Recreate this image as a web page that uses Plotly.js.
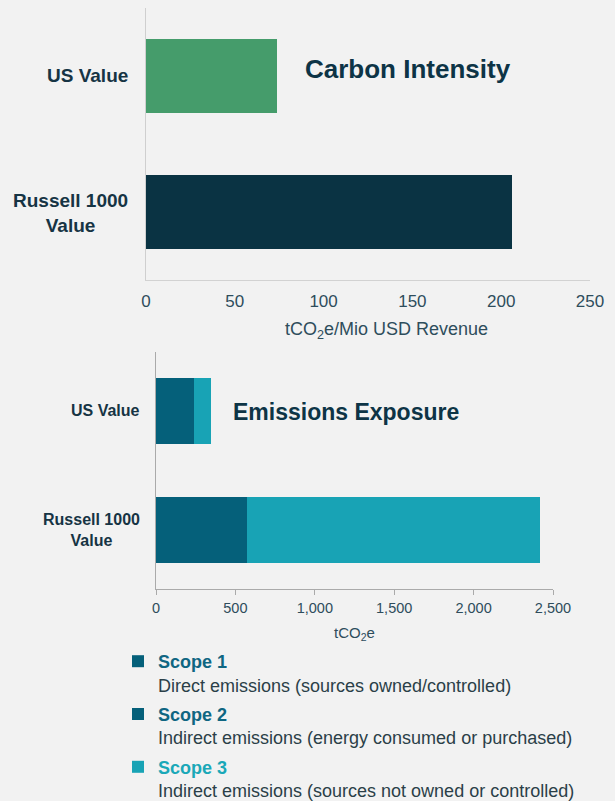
<!DOCTYPE html>
<html>
<head>
<meta charset="utf-8">
<script src="https://cdn.plot.ly/plotly-3.0.1.min.js"></script>
<style>
  html, body { margin: 0; padding: 0; background: #f2f2f2; }
  #chart { width: 615px; height: 801px; }
</style>
</head>
<body>
<div id="chart"></div>
<script>
// ---- data ----
const categories = ['US Value', 'Russell 1000 Value'];
const categoryLabels = ['US Value', 'Russell 1000<br>Value'];
const carbonIntensity = [74, 206];          // tCO2e / Mio USD revenue
const scope12 = [237, 570];                 // tCO2e (Scope 1 + Scope 2)
const scope3 = [108, 1848];                 // tCO2e (Scope 3)
const intensityTicks = [0, 50, 100, 150, 200, 250];
const exposureTicks = [0, 500, 1000, 1500, 2000, 2500];
const scopeNames = ['Scope 1', 'Scope 2', 'Scope 3'];
const scopeDescriptions = [
  'Direct emissions (sources owned/controlled)',
  'Indirect emissions (energy consumed or purchased)',
  'Indirect emissions (sources not owned or controlled)'
];

// ---- styles ----
const W = 615, H = 801;
const px = v => v / W;
const py = v => 1 - v / H;
const FONT = '"Liberation Sans", Arial, sans-serif';
const C = {
  green: '#459c6b', navy: '#0a3343', scope12: '#05607a', scope3: '#18a3b5',
  label: '#163444', tick: '#2e4d5c', title: '#0d3446', desc: '#2b3f48',
  scopeDark: '#0f6682', scopeLight: '#1aa8b8'
};
const scopeColors = [C.scope12, C.scope12, C.scope3];
const scopeTextColors = [C.scopeDark, C.scopeDark, C.scopeLight];
const legendName = i => '<span style="color:' + scopeTextColors[i] + '"><b>' + scopeNames[i] +
  '</b></span><br>' + scopeDescriptions[i];

const traces = [
  {
    type: 'bar', orientation: 'h', xaxis: 'x', yaxis: 'y',
    y: categories, x: carbonIntensity, width: 0.55,
    marker: { color: [C.green, C.navy] }, showlegend: false, hoverinfo: 'x+y'
  },
  {
    type: 'bar', orientation: 'h', xaxis: 'x2', yaxis: 'y2',
    y: categories, x: scope12, width: 0.56,
    marker: { color: C.scope12 }, showlegend: false, name: 'Scope 1 + 2'
  },
  {
    type: 'bar', orientation: 'h', xaxis: 'x2', yaxis: 'y2',
    y: [null], x: [null], name: legendName(0), legendrank: 1, legendgroup: 's1',
    marker: { color: scopeColors[0] }
  },
  {
    type: 'bar', orientation: 'h', xaxis: 'x2', yaxis: 'y2',
    y: [null], x: [null], name: legendName(1), legendrank: 2, legendgroup: 's2',
    marker: { color: scopeColors[1] }
  },
  {
    type: 'bar', orientation: 'h', xaxis: 'x2', yaxis: 'y2',
    y: categories, x: scope3, width: 0.56, name: legendName(2), legendrank: 3, legendgroup: 's3',
    marker: { color: scopeColors[2] }
  }
];

const annotations = [];
categories.forEach((c, i) => {
  annotations.push({
    xref: 'paper', yref: 'y', x: px(130), y: c, xanchor: 'right', yanchor: 'middle',
    yshift: i === 0 ? 1 : -1,
    text: '<b>' + categoryLabels[i] + '</b>', align: 'center', showarrow: false,
    font: { family: FONT, size: 19, color: C.label }
  });
  annotations.push({
    xref: 'paper', yref: 'y2', x: px(142), y: c, xanchor: 'right', yanchor: 'middle',
    yshift: i === 0 ? 1 : 0,
    text: '<b>' + categoryLabels[i] + '</b>', align: 'center', showarrow: false,
    font: { family: FONT, size: 16, color: C.label }
  });
});
annotations.push(
  { xref: 'paper', yref: 'paper', x: px(408), y: py(69), xanchor: 'center', yanchor: 'middle',
    text: '<b>Carbon Intensity</b>', showarrow: false, font: { family: FONT, size: 26, color: C.title } },
  { xref: 'paper', yref: 'paper', x: px(346), y: py(412), xanchor: 'center', yanchor: 'middle',
    text: '<b>Emissions Exposure</b>', showarrow: false, font: { family: FONT, size: 23, color: C.title } },
  { xref: 'paper', yref: 'paper', x: px(386), y: py(330), xanchor: 'center', yanchor: 'middle',
    text: 'tCO<sub>2</sub>e/Mio USD Revenue', showarrow: false, font: { family: FONT, size: 18, color: C.tick } },
  { xref: 'paper', yref: 'paper', x: px(354), y: py(633), xanchor: 'center', yanchor: 'middle',
    text: 'tCO<sub>2</sub>e', showarrow: false, font: { family: FONT, size: 15, color: C.tick } }
);

const layout = {
  width: W, height: H,
  margin: { l: 0, r: 0, t: 0, b: 0, autoexpand: false },
  paper_bgcolor: '#f2f2f2', plot_bgcolor: '#f2f2f2',
  font: { family: FONT, color: C.tick },
  barmode: 'stack',
  xaxis: {
    domain: [px(146), px(590)], anchor: 'y', range: [0, 250],
    tickvals: intensityTicks, showgrid: false, zeroline: false,
    showline: true, linecolor: '#d2d2d2', linewidth: 1,
    ticks: 'outside', ticklen: 6, tickcolor: 'rgba(0,0,0,0)',
    tickfont: { family: FONT, size: 17, color: C.tick }, fixedrange: true
  },
  yaxis: {
    domain: [py(280), py(8)], anchor: 'x', type: 'category',
    categoryarray: categories, range: [1.5, -0.5],
    showticklabels: false, ticks: '', showgrid: false, zeroline: false,
    showline: true, linecolor: '#cfcfcf', linewidth: 1, fixedrange: true
  },
  xaxis2: {
    domain: [px(156), px(553)], anchor: 'y2', range: [0, 2500],
    tickvals: exposureTicks, tickformat: ',d', showgrid: false, zeroline: false,
    showline: true, linecolor: '#aaaaaa', linewidth: 1,
    ticks: 'outside', ticklen: 5, tickcolor: '#aaaaaa', ticklabelstandoff: 1,
    tickfont: { family: FONT, size: 14.5, color: C.tick }, fixedrange: true
  },
  yaxis2: {
    domain: [py(589), py(352)], anchor: 'x2', type: 'category',
    categoryarray: categories, range: [1.5, -0.5],
    showticklabels: false, ticks: '', showgrid: false, zeroline: false,
    showline: true, linecolor: '#aaaaaa', linewidth: 1, fixedrange: true
  },
  showlegend: true,
  legend: {
    x: px(118), xanchor: 'left', y: py(643), yanchor: 'top',
    valign: 'top', traceorder: 'grouped', tracegroupgap: 3, bgcolor: 'rgba(0,0,0,0)',
    font: { family: FONT, size: 18, color: C.desc }, itemclick: false, itemdoubleclick: false
  },
  annotations: annotations
};

Plotly.newPlot('chart', traces, layout, { displayModeBar: false, staticPlot: true });
</script>
</body>
</html>
